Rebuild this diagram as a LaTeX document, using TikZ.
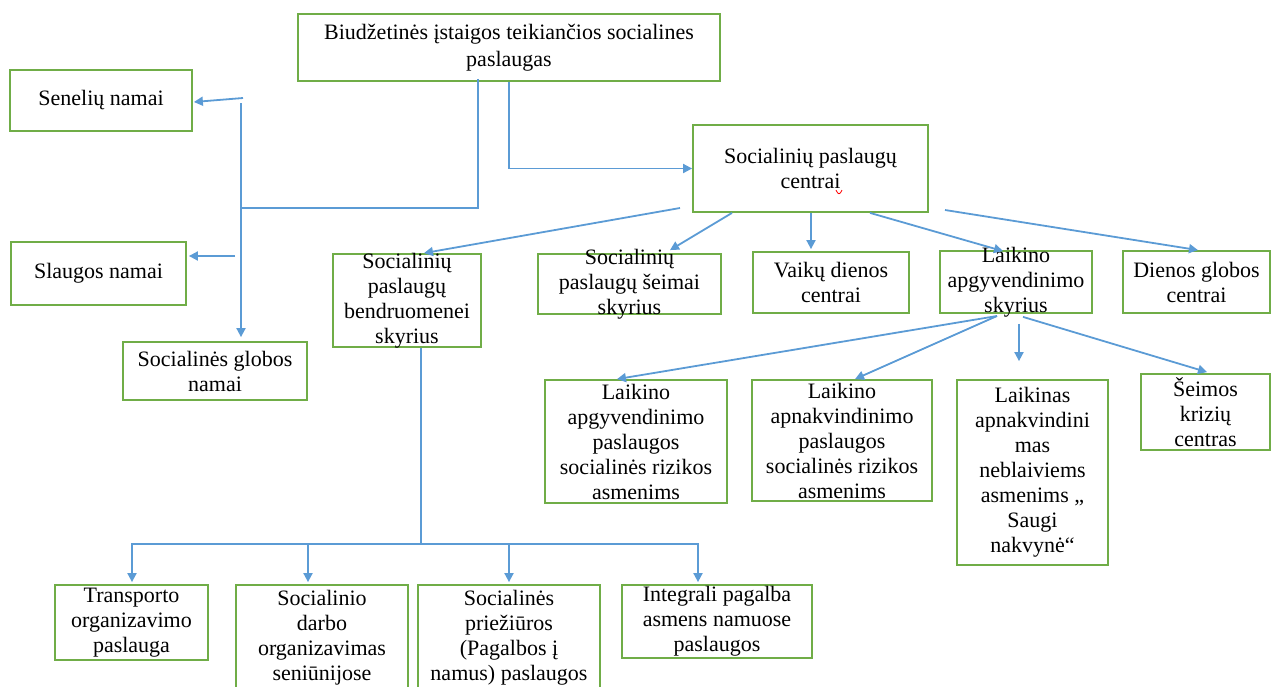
\documentclass[tikz,border=0pt]{standalone}
\usepackage{fontspec}
\setmainfont{Liberation Serif}
\usetikzlibrary{arrows.meta,calc}
\definecolor{boxgreen}{HTML}{70AD47}
\definecolor{linkblue}{HTML}{5B9BD5}
\begin{document}
\begin{tikzpicture}[x=1pt,y=-1pt,
  box/.style={draw=boxgreen, line width=1.8pt, inner sep=0pt},
  txt/.style={align=center, inner sep=0pt, font=\fontsize{22}{25}\selectfont},
  link/.style={draw=linkblue, line width=1.8pt},
  arr/.style={link, -{Triangle[length=9pt,width=9pt]}}]
\useasboundingbox (0,0) rectangle (1272,686);
\begin{scope}
\clip (0,0) rectangle (1272,686);

% ---- boxes ----
\node[box, minimum width=422, minimum height=67]  (top) at (509,47.5) {};
\node[box, minimum width=182, minimum height=61]  (sen) at (101,100.5) {};
\node[box, minimum width=175, minimum height=63]  (sla) at (98.5,273.5) {};
\node[box, minimum width=184, minimum height=58]  (glo) at (215,371) {};
\node[box, minimum width=235, minimum height=87]  (spc) at (810.5,168.5) {};
\node[box, minimum width=148, minimum height=93]  (ben) at (407,300.5) {};
\node[box, minimum width=183, minimum height=60]  (sei) at (629.5,284) {};
\node[box, minimum width=156, minimum height=61]  (vai) at (831,282.5) {};
\node[box, minimum width=152, minimum height=62]  (las) at (1016,282) {};
\node[box, minimum width=147, minimum height=62]  (dgc) at (1196.5,282) {};
\node[box, minimum width=182, minimum height=123] (lap) at (636,441.5) {};
\node[box, minimum width=180, minimum height=121] (lan) at (842,440.5) {};
\node[box, minimum width=151, minimum height=185] (lna) at (1032.5,472.5) {};
\node[box, minimum width=129, minimum height=76]  (skc) at (1205.5,412) {};
\node[box, minimum width=153, minimum height=75]  (tra) at (131.5,622.5) {};
\node[box, minimum width=172, minimum height=105] (sdo) at (322,637.5) {};
\node[box, minimum width=182, minimum height=105] (szp) at (509,637.5) {};
\node[box, minimum width=190, minimum height=73]  (int) at (717,621.5) {};

% ---- texts ----
\node[txt, font=\fontsize{22}{27}\selectfont] (top-t) at (top.center) {Biudžetinės įstaigos teikiančios socialines\\paslaugas};
\node[txt] (sen-t) at (sen.center) {Senelių namai};
\node[txt] (sla-t) at (sla.center) {Slaugos namai};
\node[txt] (glo-t) at (glo.center) {Socialinės globos\\namai};
\node[txt] (spc-t) at (spc.center) {Socialinių paslaugų\\centrai};
\node[txt] (ben-t) at (ben.center) {Socialinių\\paslaugų\\bendruomenei\\skyrius};
\node[txt] (sei-t) at (sei.center) {Socialinių\\paslaugų šeimai\\skyrius};
\node[txt] (vai-t) at (vai.center) {Vaikų dienos\\centrai};
\node[txt] (las-t) at (las.center) {Laikino\\apgyvendinimo\\skyrius};
\node[txt] (dgc-t) at (dgc.center) {Dienos globos\\centrai};
\node[txt] (lap-t) at (lap.center) {Laikino\\apgyvendinimo\\paslaugos\\socialinės rizikos\\asmenims};
\node[txt] (lan-t) at (lan.center) {Laikino\\apnakvindinimo\\paslaugos\\socialinės rizikos\\asmenims};
\node[txt] (lna-t) at (lna.center) {Laikinas\\apnakvindini\\mas\\neblaiviems\\asmenims „\\Saugi\\nakvynė“};
\node[txt] (skc-t) at (skc.center) {Šeimos\\krizių\\centras};
\node[txt] (tra-t) at (tra.center) {Transporto\\organizavimo\\paslauga};
\node[txt] (sdo-t) at (sdo.center) {Socialinio\\darbo\\organizavimas\\seniūnijose};
\node[txt] (szp-t) at (szp.center) {Socialinės\\priežiūros\\(Pagalbos į\\namus) paslaugos};
\node[txt] (int-t) at (int.center) {Integrali pagalba\\asmens namuose\\paslaugos};

% spell-check mark under "centrai"
\draw[red, line width=0.8pt] (836,190) .. controls (838,195) and (840,195) .. (842,190);

% ---- left branch: homes ----
\coordinate (trunk) at (241,208);
\coordinate (trunkTop) at (241,103);
\coordinate (senFrom) at (243,98);
\coordinate (slaFrom) at (235,256);
\draw[link] ($(top.south)+(-31,-3)$) |- (trunk);
\draw[arr] (trunkTop) -- ($(glo.north)+(26,-4)$);
\draw[arr] (senFrom) -- ($(sen.east)+(1,1.5)$);
\draw[arr] (slaFrom) -- ($(sla.east)+(2,-17.5)$);

% ---- right branch: social service centres ----
\draw[arr] (top.south) |- (spc.west);
\coordinate (spcL) at (680,208);
\coordinate (spcR) at (945,210);
\draw[arr] (spcL) -- ($(ben.north)+(17,0)$);
\draw[arr] ($(spc.south)+(-78.5,0)$) -- ($(sei.north)+(40.5,-3)$);
\draw[arr] ($(spc.south)+(0.5,0)$) -- ($(vai.north)+(-20,-2)$);
\draw[arr] ($(spc.south)+(59.5,0)$) -- ($(las.north)+(-13,1)$);
\draw[arr] (spcR) -- ($(dgc.north)+(1.5,0)$);

% ---- temporary accommodation unit ----
\coordinate (lasL) at (997,316);
\draw[arr] (lasL) -- ($(lap.north)+(-19,0)$);
\draw[arr] (lasL) -- ($(lan.north)+(13,0)$);
\draw[arr] ($(las.south)+(3,10)$) -- ($(lna.north)+(-13.5,-18)$);
\draw[arr] ($(las.south)+(7,3)$) -- ($(skc.north)+(1.5,-1)$);

% ---- community services unit ----
\coordinate (bus) at (421,544);
\draw[link] ($(ben.south)+(14,0)$) -- (bus);
\draw[arr] (bus) -| ($(tra.north)+(0.5,-2)$);
\draw[arr] (bus) -| ($(sdo.north)+(-14,-2)$);
\draw[arr] (bus) -| ($(szp.north)+(0,-2)$);
\draw[arr] (bus) -| ($(int.north)+(-19,-2)$);
\end{scope}
\end{tikzpicture}
\end{document}
